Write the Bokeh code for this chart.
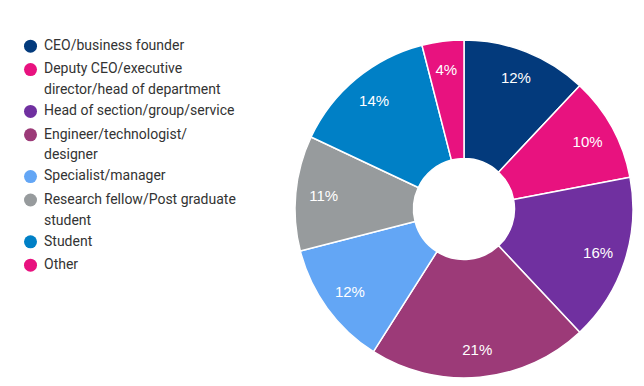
import numpy as np
from bokeh.plotting import figure
from bokeh.models import Range1d, ColumnDataSource
from bokeh.embed import file_html
from bokeh.resources import INLINE
from bokeh.core.properties import value

categories = [
    "CEO/business founder",
    "Deputy CEO/executive\ndirector/head of department",
    "Head of section/group/service",
    "Engineer/technologist/\ndesigner",
    "Specialist/manager",
    "Research fellow/Post graduate\nstudent",
    "Student",
    "Other",
]
shares = [12, 10, 16, 21, 12, 11, 14, 4]
colors = ["#033a7c", "#e8127f", "#7030a0", "#9c3a78", "#63a6f5", "#979b9d", "#0080c6", "#e8127f"]

W, H = 644, 386
p = figure(width=W, height=H, output_backend="svg", toolbar_location=None,
           x_range=Range1d(0, W), y_range=Range1d(0, H), min_border=0)
p.axis.visible = False
p.grid.visible = False
p.outline_line_color = None

# pie geometry (pixel units, y measured from bottom)
cx, cy = 463.5, H - 208.5
R, r_in, r_lab = 169, 50.5, 141

vals = np.array(shares, dtype=float)
frac = vals / vals.sum()
cum = np.concatenate([[0], np.cumsum(frac)])
start = np.pi / 2 - 2 * np.pi * cum[:-1]
end = np.pi / 2 - 2 * np.pi * cum[1:]
mid = (start + end) / 2

src = ColumnDataSource(dict(start=start, end=end, color=colors,
                            lx=cx + r_lab * np.cos(mid), ly=cy + r_lab * np.sin(mid),
                            lab=[f"{v:.0f}%" for v in vals]))
p.annular_wedge(x=cx, y=cy, inner_radius=r_in, outer_radius=R,
                start_angle="start", end_angle="end", direction="clock",
                fill_color="color", line_color="white", line_width=1.5, source=src)
p.text(x="lx", y="ly", text="lab", source=src, text_color="white",
       text_font=value("Liberation Sans"), text_font_size="15px",
       text_align="center", text_baseline="middle")

# legend
first_y, row_gap, line_gap = 45.7, 23.4, 18.4
ys = []
y = first_y
for c in categories:
    ys.append(y)
    y += row_gap + line_gap * c.count("\n")
ly = [H - v for v in ys]
lsrc = ColumnDataSource(dict(y=ly, ty=[v + 9.2 for v in ly], color=colors, text=categories))
p.scatter(x=30, y="y", size=13, fill_color="color", line_color=None, source=lsrc)
p.text(x=43.5, y="ty", text="text", source=lsrc, text_color="#333333",
       text_font=value("Roboto"), text_font_size="14px", text_line_height=1.3,
       text_align="left", text_baseline="top")

open("out.html", "w").write(file_html(p, INLINE))
